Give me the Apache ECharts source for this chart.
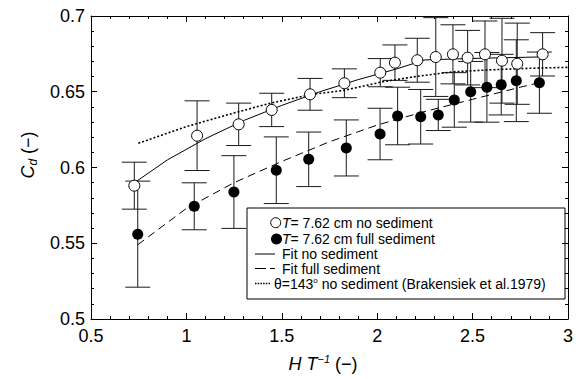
<!DOCTYPE html>
<html>
<head>
<meta charset="utf-8">
<script src="https://cdn.jsdelivr.net/npm/echarts@6/dist/echarts.min.js"></script>
<style>
  html, body { margin: 0; padding: 0; background: #fff; }
  #chart { width: 582px; height: 379px; }
</style>
</head>
<body>
<div id="chart"></div>
<script>
// Discharge coefficient C_d against relative head H/T, T = 7.62 cm
const xNoSed   = [0.727, 1.056, 1.274, 1.447, 1.648, 1.828, 2.016, 2.093, 2.21, 2.307, 2.397, 2.474, 2.565, 2.654, 2.734, 2.867];
const cdNoSed  = [0.588, 0.621, 0.6285, 0.638, 0.6483, 0.6556, 0.6626, 0.6692, 0.6708, 0.6729, 0.6747, 0.6725, 0.6747, 0.6705, 0.6685, 0.6747];
const errNoSed = [0.0155, 0.023, 0.014, 0.011, 0.0105, 0.0095, 0.0093, 0.0117, 0.0145, 0.026, 0.0195, 0.018, 0.022, 0.028, 0.0268, 0.0143];

const xFullSed   = [0.745, 1.041, 1.249, 1.471, 1.641, 1.838, 2.015, 2.107, 2.228, 2.32, 2.404, 2.49, 2.575, 2.65, 2.729, 2.85];
const cdFullSed  = [0.556, 0.5744, 0.5838, 0.5982, 0.6054, 0.6129, 0.6221, 0.634, 0.6335, 0.6347, 0.6446, 0.650, 0.6529, 0.6547, 0.6573, 0.656];
const errFullSed = [0.035, 0.0155, 0.024, 0.022, 0.018, 0.0185, 0.017, 0.019, 0.018, 0.0103, 0.018, 0.02, 0.023, 0.02, 0.027, 0.0202];

// Fitted curves
const fitNoX = [0.74, 0.9, 1.1, 1.3, 1.5, 1.7, 1.9, 2.1, 2.25, 2.5, 2.87];
const fitNoY = [0.591, 0.605, 0.619, 0.631, 0.641, 0.650, 0.658, 0.665, 0.671, 0.672, 0.673];
const fitFullX = [0.745, 1.0, 1.25, 1.5, 1.75, 2.0, 2.25, 2.5, 2.75, 2.85];
const fitFullY = [0.549, 0.573, 0.590, 0.604, 0.617, 0.628, 0.637, 0.645, 0.653, 0.656];
// Brakensiek et al. (1979), theta = 143 deg, no sediment
const brakX = [0.748, 1.0, 1.25, 1.438, 1.648, 1.828, 2.03, 2.2, 2.4, 2.6, 2.8, 3.0];
const brakY = [0.616, 0.627, 0.636, 0.6424, 0.648, 0.651, 0.6566, 0.660, 0.6632, 0.6645, 0.6655, 0.6661];

const xTicks = [0.5, 3, 0.5];      // min, max, step
const yTicks = [0.5, 0.7, 0.05];

const FONT = 'Liberation Sans, Arial, Helvetica, sans-serif';
const zip = (a, b) => a.map((v, i) => [v, b[i]]);
const bars = (xs, ys, es) => xs.map((x, i) => [x, ys[i] - es[i], ys[i] + es[i]]);

function errorBar(params, api) {
  const x = api.value(0);
  const lo = api.coord([x, api.value(1)]);
  const hi = api.coord([x, api.value(2)]);
  const half = 12.5;
  const style = { stroke: '#1a1a1a', lineWidth: 1 };
  return {
    type: 'group',
    children: [
      { type: 'line', shape: { x1: lo[0], y1: lo[1], x2: hi[0], y2: hi[1] }, style },
      { type: 'line', shape: { x1: hi[0] - half, y1: hi[1], x2: hi[0] + half, y2: hi[1] }, style },
      { type: 'line', shape: { x1: lo[0] - half, y1: lo[1], x2: lo[0] + half, y2: lo[1] }, style }
    ]
  };
}

function axisBase(extra) {
  return Object.assign({
    type: 'value',
    axisLine: { show: true, lineStyle: { color: '#000', width: 1 } },
    axisTick: { show: true, inside: true, length: 6, lineStyle: { color: '#000' } },
    minorTick: { show: true, splitNumber: 5, length: 3, lineStyle: { color: '#000' } },
    splitLine: { show: false },
    minorSplitLine: { show: false }
  }, extra);
}

const chart = echarts.init(document.getElementById('chart'), null, { renderer: 'svg' });

const legendX = 247, legendY = 208;
const rowY = [222.7, 239, 254, 268.5, 283.5];

chart.setOption({
  animation: false,
  backgroundColor: '#fff',
  textStyle: { fontFamily: FONT },
  grid: { left: 91, top: 16, right: 14, bottom: 60 },
  xAxis: [
    axisBase({
      min: xTicks[0], max: xTicks[1], interval: xTicks[2],
      axisLabel: { color: '#000', fontSize: 18, fontFamily: FONT, margin: 8 },
      name: '{i|H T}{sup|−1}{n| (−)}',
      nameLocation: 'middle', nameGap: 34,
      nameTextStyle: {
        padding: [0, 13, 0, 0],
        rich: {
          i: { fontSize: 18, fontStyle: 'italic', fontFamily: FONT, color: '#000', lineHeight: 22 },
          sup: { fontSize: 11, fontStyle: 'italic', fontFamily: FONT, color: '#000', lineHeight: 12, verticalAlign: 'top' },
          n: { fontSize: 18, fontFamily: FONT, color: '#000', lineHeight: 22 }
        }
      }
    }),
    axisBase({
      position: 'top',
      min: xTicks[0], max: xTicks[1], interval: xTicks[2],
      axisLabel: { show: false }
    })
  ],
  yAxis: [
    axisBase({
      min: yTicks[0], max: yTicks[1], interval: yTicks[2],
      axisLabel: { color: '#000', fontSize: 18, fontFamily: FONT, margin: 6 },
      name: '{i|C}{sub|d}{n| (−)}',
      nameLocation: 'middle', nameGap: 52, nameRotate: 90,
      nameTextStyle: {
        padding: [0, 0, 0, 25],
        rich: {
          i: { fontSize: 18, fontStyle: 'italic', fontFamily: FONT, color: '#000', lineHeight: 22 },
          sub: { fontSize: 12, fontStyle: 'italic', fontFamily: FONT, color: '#000', lineHeight: 12, verticalAlign: 'bottom' },
          n: { fontSize: 18, fontFamily: FONT, color: '#000', lineHeight: 22 }
        }
      }
    }),
    axisBase({
      position: 'right',
      min: yTicks[0], max: yTicks[1], interval: yTicks[2],
      axisLabel: { show: false }
    })
  ],
  series: [
    {
      name: 'err no sediment', type: 'custom', renderItem: errorBar,
      encode: { x: 0, y: [1, 2] }, data: bars(xNoSed, cdNoSed, errNoSed), z: 2, silent: true
    },
    {
      name: 'err full sediment', type: 'custom', renderItem: errorBar,
      encode: { x: 0, y: [1, 2] }, data: bars(xFullSed, cdFullSed, errFullSed), z: 2, silent: true
    },
    {
      name: 'Fit no sediment', type: 'line', data: zip(fitNoX, fitNoY), showSymbol: false,
      lineStyle: { color: '#000', width: 1, type: 'solid' }, z: 3, silent: true
    },
    {
      name: 'Fit full sediment', type: 'line', data: zip(fitFullX, fitFullY), showSymbol: false,
      lineStyle: { color: '#000', width: 1, type: [8, 5] }, z: 3, silent: true
    },
    {
      name: 'Brakensiek', type: 'line', data: zip(brakX, brakY), showSymbol: false,
      lineStyle: { color: '#000', width: 1.6, type: [2, 2] }, z: 3, silent: true
    },
    {
      name: 'T= 7.62 cm no sediment', type: 'scatter', data: zip(xNoSed, cdNoSed),
      symbol: 'circle', symbolSize: 11,
      itemStyle: { color: '#fff', borderColor: '#000', borderWidth: 1, opacity: 1 }, z: 5, silent: true
    },
    {
      name: 'T= 7.62 cm full sediment', type: 'scatter', data: zip(xFullSed, cdFullSed),
      symbol: 'circle', symbolSize: 11,
      itemStyle: { color: '#000', opacity: 1 }, z: 5, silent: true
    }
  ],
  graphic: [
    {
      type: 'group', z: 100,
      children: [
        { type: 'rect', shape: { x: legendX, y: legendY, width: 318, height: 91 },
          style: { fill: '#fff', stroke: '#000', lineWidth: 1 } },
        { type: 'circle', shape: { cx: 275.7, cy: rowY[0], r: 5 },
          style: { fill: '#fff', stroke: '#000', lineWidth: 1 } },
        { type: 'text', x: 282, y: rowY[0],
          style: { text: '{i|T}= 7.62 cm no sediment', fontSize: 14, fontFamily: FONT, fill: '#000', verticalAlign: 'middle',
            rich: { i: { fontStyle: 'italic', fontSize: 14, fontFamily: FONT } } } },
        { type: 'circle', shape: { cx: 276.5, cy: rowY[1], r: 5.5 },
          style: { fill: '#000' } },
        { type: 'text', x: 282, y: rowY[1],
          style: { text: '{i|T}= 7.62 cm full sediment', fontSize: 14, fontFamily: FONT, fill: '#000', verticalAlign: 'middle',
            rich: { i: { fontStyle: 'italic', fontSize: 14, fontFamily: FONT } } } },
        { type: 'line', shape: { x1: 255, y1: rowY[2], x2: 275, y2: rowY[2] },
          style: { stroke: '#000', lineWidth: 1 } },
        { type: 'text', x: 282, y: rowY[2],
          style: { text: 'Fit no sediment', fontSize: 14, fontFamily: FONT, fill: '#000', verticalAlign: 'middle' } },
        { type: 'line', shape: { x1: 255, y1: rowY[3], x2: 275, y2: rowY[3] },
          style: { stroke: '#000', lineWidth: 1, lineDash: [11, 4] } },
        { type: 'text', x: 282, y: rowY[3],
          style: { text: 'Fit full sediment', fontSize: 14, fontFamily: FONT, fill: '#000', verticalAlign: 'middle' } },
        { type: 'line', shape: { x1: 255, y1: rowY[4], x2: 271, y2: rowY[4] },
          style: { stroke: '#000', lineWidth: 1.4, lineDash: [1.5, 1.2] } },
        { type: 'text', x: 274, y: rowY[4],
          style: { text: 'θ=143{sup|o} no sediment (Brakensiek et al.1979)', fontSize: 14, fontFamily: FONT, fill: '#000', verticalAlign: 'middle',
            rich: { sup: { fontSize: 8, fontFamily: FONT, verticalAlign: 'top', lineHeight: 10 } } } }
      ]
    }
  ]
});
</script>
</body>
</html>
